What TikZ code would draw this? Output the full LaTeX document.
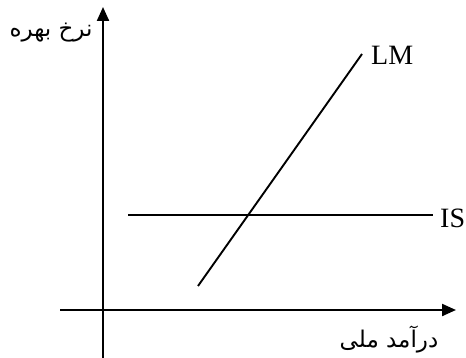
\documentclass[tikz,border=0pt]{standalone}
\usepackage{fontspec}
\setmainfont{Liberation Serif}
\newfontfamily\farsifont[Script=Arabic]{DejaVu Sans}
\TeXXeTstate=1
\usepackage{tikz}
\usetikzlibrary{arrows.meta}

\begin{document}
\begin{tikzpicture}[
  x=1pt,y=-1pt,
  axis/.style={line width=2.2pt,-{Triangle[length=14pt,width=12pt]}},
  curve/.style={line width=1.9pt},
  lbl/.style={font=\fontsize{28}{30}\selectfont,inner sep=0pt},
  flbl/.style={font=\farsifont\fontsize{23}{26}\selectfont,inner sep=0pt}
]
  \useasboundingbox (0,0) rectangle (466,358);

  % axes
  \coordinate (yfoot) at (103,358);
  \coordinate (ytop) at (103,7);
  \coordinate (xfoot) at (60,310);
  \coordinate (xtop) at (456,310);
  \draw[axis] (yfoot) -- (ytop);
  \draw[axis] (xfoot) -- (xtop);

  % curves
  \coordinate (lmlow) at (198,286);
  \coordinate (lmhigh) at (362,54);
  \coordinate (isleft) at (128,215);
  \coordinate (isright) at (433,215);
  \draw[curve] (lmlow) -- (lmhigh);
  \draw[curve] (isleft) -- (isright);

  % labels
  \node[lbl,anchor=west] (lm) at (371,55) {LM};
  \node[lbl,anchor=west] (is) at (440,218) {IS};
  \node[flbl] (rate) at (51,33) {\beginR نرخ بهره\endR};
  \node[flbl] (income) at (389,340) {\beginR درآمد ملی\endR};
\end{tikzpicture}
\end{document}
